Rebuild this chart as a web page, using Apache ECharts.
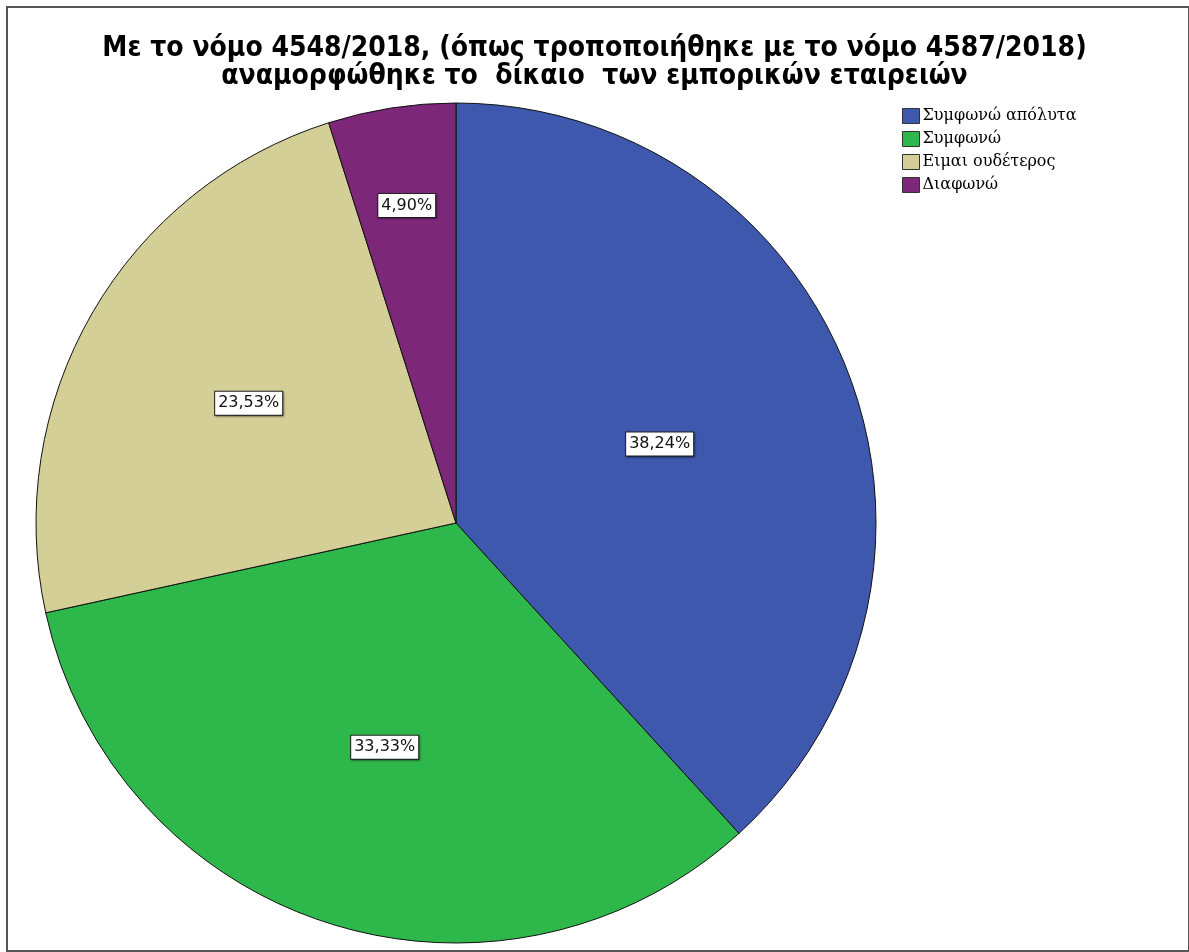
<!DOCTYPE html>
<html>
<head>
<meta charset="utf-8">
<script src="https://cdn.jsdelivr.net/npm/echarts@6/dist/echarts.min.js"></script>
<style>
html, body { margin: 0; padding: 0; background: #fff; }
#main { width: 1189px; height: 952px; }
</style>
</head>
<body>
<div id="main"></div>
<script>
// Απαντήσεις (n = 102)
const categories = ['Συμφωνώ απόλυτα', 'Συμφωνώ', 'Ειμαι ουδέτερος', 'Διαφωνώ'];
const counts = [39, 34, 24, 5];
const colors = ['#3d58ac', '#2eb84b', '#d4ce97', '#7d2778'];

const total = counts.reduce((a, b) => a + b, 0);
const cx = 456, cy = 523, R = 420;
// πόσο μακριά από το κέντρο κάθεται η ετικέτα (κλάσμα ακτίνας)
const labelDist = [0.52, 0.56, 0.57, 0.765];

const myChart = echarts.init(document.getElementById('main'));

const option = {
    animation: false,
    title: {
        text: 'Με το νόμο 4548/2018, (όπως τροποποιήθηκε με το νόμο 4587/2018)\nαναμορφώθηκε το  δίκαιο  των εμπορικών εταιρειών',
        left: 'center',
        top: 30,
        textStyle: {
            fontFamily: '"Liberation Sans Narrow", "DejaVu Sans Condensed", sans-serif',
            fontWeight: 'bold',
            fontSize: 28,
            lineHeight: 28,
            color: '#000'
        }
    },
    legend: {
        orient: 'vertical',
        left: 897,
        top: 103,
        itemWidth: 17,
        itemHeight: 15,
        itemGap: 7,
        icon: 'rect',
        itemStyle: { borderColor: '#333', borderWidth: 1 },
        textStyle: {
            fontFamily: '"DejaVu Serif", "Liberation Serif", serif',
            fontSize: 16,
            color: '#000',
            padding: [0, 0, 0, -2]
        },
        data: categories
    },
    graphic: [{
        type: 'rect',
        shape: { x: 7, y: 7, width: 1182, height: 944 },
        style: { fill: 'none', stroke: '#555', lineWidth: 2 },
        silent: true
    }],
    series: [{
        type: 'pie',
        center: [cx, cy],
        radius: R,
        startAngle: 90,
        clockwise: true,
        avoidLabelOverlap: false,
        itemStyle: { borderColor: '#111', borderWidth: 1 },
        label: {
            show: true,
            position: 'inside',
            formatter: p => (p.value / total * 100).toFixed(2).replace('.', ',') + '%',
            fontFamily: '"DejaVu Sans", sans-serif',
            fontSize: 16,
            color: '#111',
            backgroundColor: '#fff',
            borderColor: '#222',
            borderWidth: 1,
            padding: [4, 3, 3, 3],
            shadowColor: 'rgba(0,0,0,0.35)',
            shadowBlur: 2,
            shadowOffsetX: 1,
            shadowOffsetY: 1
        },
        labelLine: { show: false },
        emphasis: { disabled: true },
        labelLayout: function (params) {
            const r = params.labelRect;
            const lx = r.x + r.width / 2 - cx;
            const ly = r.y + r.height / 2 - cy;
            const d = Math.sqrt(lx * lx + ly * ly) || 1;
            const s = labelDist[params.dataIndex] * R / d;
            return { dx: lx * (s - 1), dy: ly * (s - 1) };
        },
        data: categories.map((name, i) => ({
            name: name,
            value: counts[i],
            itemStyle: { color: colors[i] }
        }))
    }]
};

myChart.setOption(option);
</script>
</body>
</html>
